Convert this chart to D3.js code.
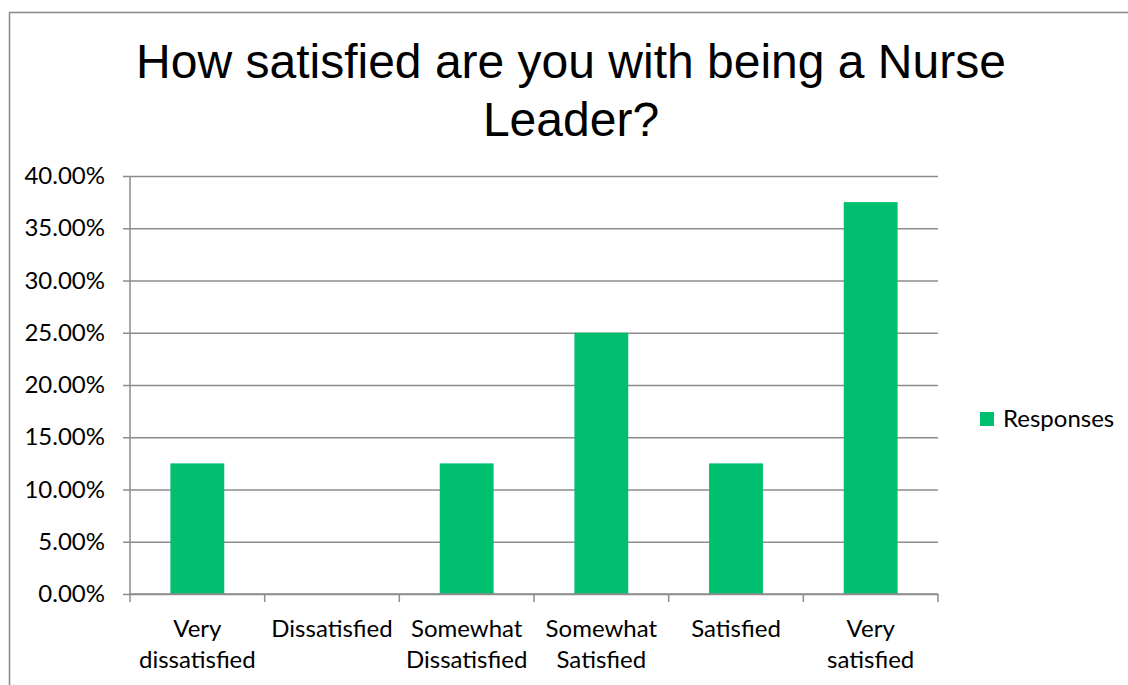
<!DOCTYPE html>
<html>
<head>
<meta charset="utf-8">
<script src="https://cdn.jsdelivr.net/npm/d3@7"></script>
<style>
  html, body { margin: 0; padding: 0; background: #fff; }
  svg { display: block; }
</style>
</head>
<body>
<svg id="chart" width="1128" height="685"></svg>
<script>
// Survey answers and their share of responses
const categories = [
  ["Very", "dissatisfied"],
  ["Dissatisfied"],
  ["Somewhat", "Dissatisfied"],
  ["Somewhat", "Satisfied"],
  ["Satisfied"],
  ["Very", "satisfied"]
];
const responses = [0.125, 0, 0.125, 0.25, 0.125, 0.375];
const yTicks = [0, 0.05, 0.10, 0.15, 0.20, 0.25, 0.30, 0.35, 0.40];
const titleLines = ["How satisfied are you with being a Nurse", "Leader?"];
const seriesName = "Responses";

const barColor = "#00BF6F";
const gridColor = "#8C8C8C";
const labelFont = "Lato, 'Open Sans', sans-serif";
const labelSize = 24;

const svg = d3.select("#chart");

// outer chart border
svg.append("rect")
  .attr("x", 9.5).attr("y", 12.5)
  .attr("width", 1140).attr("height", 700)
  .attr("fill", "#fff")
  .attr("stroke", "#888").attr("stroke-width", 1.5);

// title
svg.append("g").selectAll("text")
  .data(titleLines).join("text")
  .attr("x", 571)
  .attr("y", (d, i) => 78 + i * 58)
  .attr("text-anchor", "middle")
  .attr("font-family", "'Liberation Sans', Arial, sans-serif")
  .attr("font-size", 48)
  .attr("fill", "#000")
  .text(d => d);

const plot = { left: 130, right: 938, top: 176, bottom: 594 };

const x = d3.scaleBand()
  .domain(d3.range(categories.length))
  .range([plot.left, plot.right])
  .paddingInner(0.6).paddingOuter(0.3);

const y = d3.scaleLinear()
  .domain([0, 0.40])
  .range([plot.bottom, plot.top]);

// horizontal gridlines + y axis
const yAxis = svg.append("g")
  .attr("transform", `translate(${plot.left},0)`)
  .call(d3.axisLeft(y)
    .tickValues(yTicks)
    .tickSize(7)
    .tickFormat(d => (d * 100).toFixed(2) + "%"));
yAxis.select(".domain").remove();
yAxis.selectAll(".tick line")
  .attr("stroke", gridColor).attr("stroke-width", 1.5)
  .attr("x1", -7).attr("x2", plot.right - plot.left);
yAxis.selectAll(".tick text")
  .attr("x", -25)
  .attr("font-family", labelFont)
  .attr("font-size", labelSize)
  .attr("fill", "#000");

svg.append("line")
  .attr("x1", plot.left).attr("x2", plot.left)
  .attr("y1", plot.top).attr("y2", plot.bottom)
  .attr("stroke", gridColor).attr("stroke-width", 1.5);

// bars
svg.append("g").selectAll("rect")
  .data(responses).join("rect")
  .attr("x", (d, i) => x(i))
  .attr("width", x.bandwidth())
  .attr("y", d => y(d))
  .attr("height", d => plot.bottom - y(d))
  .attr("fill", barColor);

// x axis with tick marks between categories
const step = (plot.right - plot.left) / categories.length;
const xAxis = svg.append("g");
xAxis.append("line")
  .attr("x1", plot.left).attr("x2", plot.right)
  .attr("y1", plot.bottom).attr("y2", plot.bottom)
  .attr("stroke", gridColor).attr("stroke-width", 1.5);
xAxis.selectAll("line.tick")
  .data(d3.range(categories.length + 1)).join("line")
  .attr("class", "tick")
  .attr("x1", i => plot.left + i * step).attr("x2", i => plot.left + i * step)
  .attr("y1", plot.bottom).attr("y2", plot.bottom + 8)
  .attr("stroke", gridColor).attr("stroke-width", 1.5);

const catLabels = xAxis.selectAll("text.cat")
  .data(categories).join("text")
  .attr("class", "cat")
  .attr("text-anchor", "middle")
  .attr("font-family", labelFont)
  .attr("font-size", labelSize)
  .attr("fill", "#000")
  .attr("transform", (d, i) => `translate(${x(i) + x.bandwidth() / 2},637)`);
catLabels.selectAll("tspan")
  .data(d => d).join("tspan")
  .attr("x", 0)
  .attr("dy", (d, j) => j === 0 ? 0 : 31)
  .text(d => d);

// legend
const legend = svg.append("g").attr("transform", "translate(980,412)");
legend.append("rect")
  .attr("width", 14).attr("height", 14)
  .attr("fill", barColor);
legend.append("text")
  .attr("x", 23).attr("y", 7)
  .attr("dy", "0.35em")
  .attr("font-family", labelFont)
  .attr("font-size", labelSize)
  .attr("fill", "#000")
  .text(seriesName);
</script>
</body>
</html>
